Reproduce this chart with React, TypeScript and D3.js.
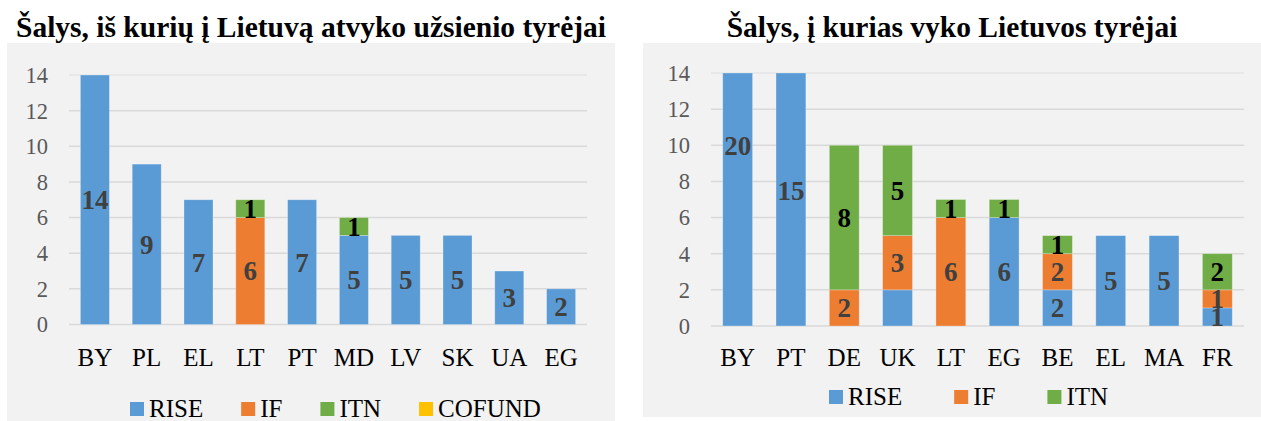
import React from "react";
import * as d3 from "d3";

// ---- data ----
const leftCountries = ["BY", "PL", "EL", "LT", "PT", "MD", "LV", "SK", "UA", "EG"];
const leftRise = [14, 9, 7, 0, 7, 5, 5, 5, 3, 2];
const leftIf = [0, 0, 0, 6, 0, 0, 0, 0, 0, 0];
const leftItn = [0, 0, 0, 1, 0, 1, 0, 0, 0, 0];
const leftCofund = [0, 0, 0, 0, 0, 0, 0, 0, 0, 0];

const rightCountries = ["BY", "PT", "DE", "UK", "LT", "EG", "BE", "EL", "MA", "FR"];
const rightRise = [20, 15, 0, 2, 0, 6, 2, 5, 5, 1];
const rightIf = [0, 0, 2, 3, 6, 0, 2, 0, 0, 1];
const rightItn = [0, 0, 8, 5, 1, 1, 1, 0, 0, 2];
// labels that the original chart does not show
const rightHiddenLabels = ["UK:RISE"];

const yTicks = [0, 2, 4, 6, 8, 10, 12, 14];
const yMax = 14;

const leftTitle = "Šalys, iš kurių į Lietuvą atvyko užsienio tyrėjai";
const rightTitle = "Šalys, į kurias vyko Lietuvos tyrėjai";

const colors = { RISE: "#5b9bd5", IF: "#ed7d31", ITN: "#70ad47", COFUND: "#ffc000" };
const FONT = '"Liberation Serif", "Times New Roman", "DejaVu Serif", serif';

function measure(text, size) {
  const c = document.createElement("canvas").getContext("2d");
  c.font = `${size}px "Liberation Serif"`;
  return c.measureText(text).width;
}

function Panel({ title, bg, plot, countries, series, legend, hidden = [] }) {
  const keys = series.map((s) => s.key);
  const rows = countries.map((c, i) => {
    const r = { country: c };
    series.forEach((s) => (r[s.key] = s.values[i]));
    return r;
  });
  const stacked = d3.stack().keys(keys)(rows);

  const x = d3
    .scaleBand()
    .domain(countries)
    .range([plot.left, plot.right])
    .paddingInner(0.44)
    .paddingOuter(0.22);
  const y = d3.scaleLinear().domain([0, yMax]).range([plot.bottom, plot.top]);
  const cy = (v) => y(Math.min(v, yMax));

  // legend layout
  let lx = legend.x;
  const legendItems = series.map((s) => {
    const w = measure(s.key, 25);
    const item = { key: s.key, x: lx };
    lx += 14 + 5 + w + legend.gap;
    return item;
  });

  return (
    <g>
      <rect x={bg.x} y={bg.y} width={bg.w} height={bg.h} fill="#f2f2f2" />
      <text
        x={bg.x + bg.w / 2}
        y={37}
        textAnchor="middle"
        style={{ fontFamily: FONT, fontWeight: "bold", fontSize: 29.5 }}
        fill="#000"
      >
        {title}
      </text>

      {/* gridlines + y ticks */}
      {yTicks.map((t) => (
        <g key={t}>
          <line
            x1={plot.left}
            x2={plot.right}
            y1={y(t)}
            y2={y(t)}
            stroke={t === yMax ? "#e4e4e4" : "#d9d9d9"}
            strokeWidth={1.5}
          />
          <text
            x={plot.left - 21}
            y={y(t)}
            dy="0.35em"
            textAnchor="end"
            style={{ fontFamily: FONT, fontSize: 22.5 }}
            fill="#595959"
          >
            {t}
          </text>
        </g>
      ))}

      {/* bars */}
      {stacked.map((layer) => (
        <g key={layer.key} fill={colors[layer.key]}>
          {layer.map((d, i) =>
            d[1] - d[0] > 0 ? (
              <rect
                key={i}
                x={x(countries[i])}
                y={cy(d[1])}
                width={x.bandwidth()}
                height={cy(d[0]) - cy(d[1])}
                stroke="rgba(255,255,255,0.35)"
                strokeWidth={0.75}
              />
            ) : null
          )}
        </g>
      ))}

      {/* value labels */}
      {stacked.map((layer) =>
        layer.map((d, i) => {
          const v = d[1] - d[0];
          if (v <= 0 || hidden.includes(`${countries[i]}:${layer.key}`)) return null;
          return (
            <text
              key={layer.key + i}
              x={x(countries[i]) + x.bandwidth() / 2}
              y={y((d[0] + d[1]) / 2)}
              dy="0.35em"
              textAnchor="middle"
              style={{ fontFamily: FONT, fontWeight: "bold", fontSize: 27 }}
              fill={layer.key === "ITN" ? "#000" : "#404040"}
            >
              {v}
            </text>
          );
        })
      )}

      {/* category labels */}
      {countries.map((c) => (
        <text
          key={c}
          x={x(c) + x.bandwidth() / 2}
          y={366}
          textAnchor="middle"
          style={{ fontFamily: FONT, fontSize: 25 }}
          fill="#000"
        >
          {c}
        </text>
      ))}

      {/* legend */}
      {legendItems.map((it) => (
        <g key={it.key}>
          <rect x={it.x} y={legend.y - 15} width={14} height={14} fill={colors[it.key]} />
          <text x={it.x + 19} y={legend.y} style={{ fontFamily: FONT, fontSize: 25 }} fill="#000">
            {it.key}
          </text>
        </g>
      ))}
    </g>
  );
}

export default function App() {
  return (
    <svg
      width={1261}
      height={421}
      style={{ position: "absolute", left: 0, top: 0, background: "#fff" }}
    >
      <Panel
        title={leftTitle}
        bg={{ x: 7, y: 43, w: 608, h: 378 }}
        plot={{ left: 69, right: 587, top: 75, bottom: 324.5 }}
        countries={leftCountries}
        series={[
          { key: "RISE", values: leftRise },
          { key: "IF", values: leftIf },
          { key: "ITN", values: leftItn },
          { key: "COFUND", values: leftCofund },
        ]}
        legend={{ x: 130, y: 417, gap: 38 }}
      />
      <Panel
        title={rightTitle}
        bg={{ x: 643, y: 43, w: 618, h: 374 }}
        plot={{ left: 711, right: 1244, top: 73, bottom: 326 }}
        countries={rightCountries}
        series={[
          { key: "RISE", values: rightRise },
          { key: "IF", values: rightIf },
          { key: "ITN", values: rightItn },
        ]}
        legend={{ x: 829, y: 405, gap: 52 }}
        hidden={rightHiddenLabels}
      />
    </svg>
  );
}
